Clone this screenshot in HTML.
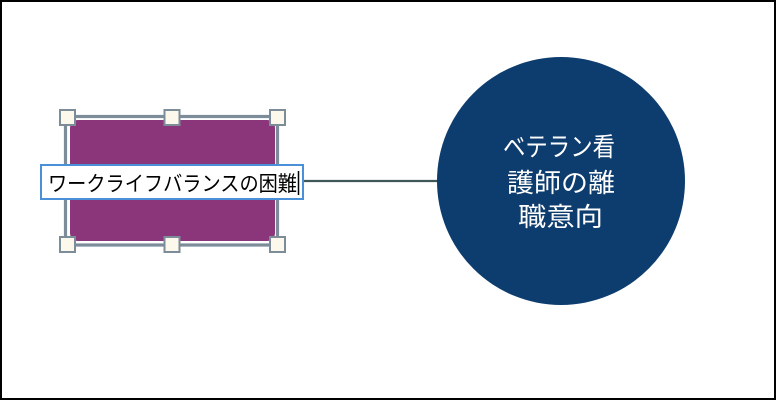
<!DOCTYPE html>
<html>
<head>
<meta charset="utf-8">
<style>
html,body{margin:0;padding:0;background:#fff;}
body{width:776px;height:400px;overflow:hidden;}
svg{display:block;}
text{font-family:"Liberation Sans","Noto Sans CJK JP",sans-serif;}
</style>
</head>
<body>
<svg width="776" height="400" viewBox="0 0 776 400" xmlns="http://www.w3.org/2000/svg">
  <rect x="0" y="0" width="776" height="400" fill="#ffffff"/>
  <rect x="1" y="1" width="774" height="398" fill="none" stroke="#000" stroke-width="2"/>

  <!-- connector -->
  <line x1="304" y1="181" x2="438" y2="181" stroke="#3f5757" stroke-width="2.2"/>

  <!-- circle -->
  <circle cx="561" cy="181" r="124" fill="#0d3c6e"/>
  <text x="503" y="156" fill="#fff" font-size="26" textLength="112" lengthAdjust="spacingAndGlyphs">ベテラン看</text>
  <text x="507" y="192" fill="#fff" font-size="26" textLength="108" lengthAdjust="spacingAndGlyphs">護師の離</text>
  <text x="518" y="226" fill="#fff" font-size="26" textLength="85" lengthAdjust="spacingAndGlyphs">職意向</text>

  <!-- purple rounded rect -->
  <rect x="70" y="120" width="205" height="121" rx="8" ry="8" fill="#8b357b"/>

  <!-- selection frame -->
  <rect x="65.5" y="116.5" width="212" height="128.5" fill="none" stroke="#7d8c99" stroke-width="3.2"/>

  <!-- handles -->
  <g fill="#fdf8ec" stroke="#7d8c99" stroke-width="2">
    <rect x="60" y="110" width="15" height="15"/>
    <rect x="164.5" y="110" width="15" height="15"/>
    <rect x="270" y="110" width="15" height="15"/>
    <rect x="60" y="237" width="15" height="15"/>
    <rect x="164.5" y="237" width="15" height="15"/>
    <rect x="270" y="237" width="15" height="15"/>
  </g>

  <!-- text edit box -->
  <rect x="41" y="165" width="262" height="34" fill="#fff" stroke="#4a90d9" stroke-width="2"/>
  <text x="48" y="191" fill="#000" font-size="21" textLength="249" lengthAdjust="spacingAndGlyphs">ワークライフバランスの困難</text>
  <line x1="298.5" y1="171" x2="298.5" y2="195" stroke="#000" stroke-width="1.5"/>
</svg>
</body>
</html>
